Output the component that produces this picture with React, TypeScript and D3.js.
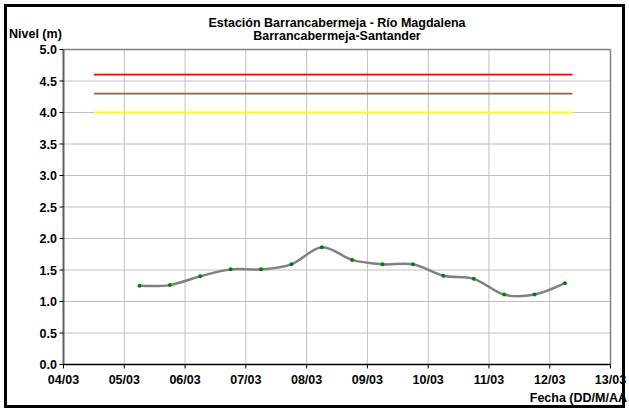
import React from "react";
import * as d3 from "d3";

const dates: string[] = [
  "2014-03-05T06:00:00Z", "2014-03-05T18:00:00Z",
  "2014-03-06T06:00:00Z", "2014-03-06T18:00:00Z",
  "2014-03-07T06:00:00Z", "2014-03-07T18:00:00Z",
  "2014-03-08T06:00:00Z", "2014-03-08T18:00:00Z",
  "2014-03-09T06:00:00Z", "2014-03-09T18:00:00Z",
  "2014-03-10T06:00:00Z", "2014-03-10T18:00:00Z",
  "2014-03-11T06:00:00Z", "2014-03-11T18:00:00Z",
  "2014-03-12T06:00:00Z",
];
const levels: number[] = [1.25, 1.26, 1.40, 1.51, 1.51, 1.59, 1.86, 1.66, 1.59, 1.59, 1.41, 1.36, 1.11, 1.11, 1.29];

const thresholdValues: number[] = [4.6, 4.3, 4.0];
const thresholdColors: string[] = ["#FF0000", "#996633", "#FFFF00"];
const thresholdStart = "2014-03-04T12:00:00Z";
const thresholdEnd = "2014-03-12T09:00:00Z";

const xDomain: string[] = ["2014-03-04T00:00:00Z", "2014-03-13T00:00:00Z"];
const yTicks: number[] = [0, 0.5, 1, 1.5, 2, 2.5, 3, 3.5, 4, 4.5, 5];

const titleLines: string[] = ["Estación Barrancabermeja - Río Magdalena", "Barrancabermeja-Santander"];
const yLabel = "Nivel (m)";
const xLabel = "Fecha (DD/M/AA";

const W = 629;
const H = 410;
const L = 63.5, R = 610.5, T = 49.5, B = 364.5;

export default function App() {
  const x = d3.scaleUtc().domain(xDomain.map((d) => new Date(d))).range([L, R]);
  const y = d3.scaleLinear().domain([0, 5]).range([B, T]);
  const xTicks = d3.utcDay.range(new Date(xDomain[0]), d3.utcDay.offset(new Date(xDomain[1]), 1));
  const fmt = d3.utcFormat("%d/%m");
  const pts = dates.map((d, i) => [x(new Date(d)), y(levels[i])] as [number, number]);
  const line = d3.line().curve(d3.curveCatmullRom.alpha(0))(pts) || "";
  const font = "'Liberation Sans', Arial, sans-serif";
  const fs = 12.5;

  return (
    <svg width={W} height={H} style={{ position: "absolute", left: 0, top: 0, background: "#fff" }} fontFamily={font}>
      <rect x={5.5} y={5.5} width={618} height={401} fill="#fff" stroke="#000" strokeWidth={3} />
      {yTicks.map((t) => (
        <line key={"gy" + t} x1={L} x2={R} y1={y(t)} y2={y(t)} stroke="#c0c0c0" strokeWidth={1} />
      ))}
      {xTicks.map((t, i) => (
        <line key={"gx" + i} x1={x(t)} x2={x(t)} y1={T} y2={B} stroke="#c0c0c0" strokeWidth={1} />
      ))}
      <line x1={L} x2={R} y1={T} y2={T} stroke="#808080" strokeWidth={1.5} />
      <line x1={R} x2={R} y1={T} y2={B} stroke="#808080" strokeWidth={1.5} />
      {thresholdValues.map((v, i) => (
        <line key={"th" + i} x1={x(new Date(thresholdStart))} x2={x(new Date(thresholdEnd))} y1={y(v)} y2={y(v)}
          stroke={thresholdColors[i]} strokeWidth={1.8} />
      ))}
      <path d={line} fill="none" stroke="#808080" strokeWidth={2.5} />
      {pts.map((p, i) => (
        <circle key={"p" + i} cx={p[0]} cy={p[1]} r={2} fill="#008000" />
      ))}
      <line x1={L} x2={L} y1={T} y2={B} stroke="#606060" strokeWidth={2} />
      <line x1={L} x2={R} y1={B} y2={B} stroke="#000" strokeWidth={1.5} />
      {yTicks.map((t) => (
        <g key={"yt" + t}>
          <line x1={L - 4} x2={L} y1={y(t)} y2={y(t)} stroke="#000" strokeWidth={1} />
          <text x={57} y={y(t) + 4.5} textAnchor="end" fontSize={fs} fontWeight="bold" fill="#000">{t.toFixed(1)}</text>
        </g>
      ))}
      {xTicks.map((t, i) => (
        <g key={"xt" + i}>
          <line x1={x(t)} x2={x(t)} y1={B} y2={B + 4} stroke="#000" strokeWidth={1} />
          <text x={x(t)} y={384} textAnchor="middle" fontSize={fs} fontWeight="bold" fill="#000">{fmt(t)}</text>
        </g>
      ))}
      {titleLines.map((s, i) => (
        <text key={"tt" + i} x={337} y={27 + i * 13} textAnchor="middle" fontSize={fs} fontWeight="bold" fill="#000">{s}</text>
      ))}
      <text x={9} y={38} fontSize={fs} fontWeight="bold" fill="#000">{yLabel}</text>
      <text x={627} y={402} textAnchor="end" fontSize={fs} fontWeight="bold" fill="#000">{xLabel}</text>
    </svg>
  );
}
